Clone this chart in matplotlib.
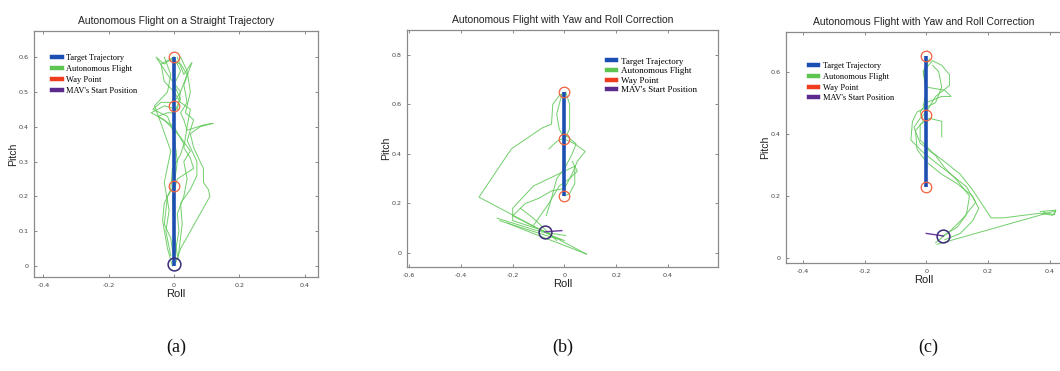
import matplotlib
matplotlib.use("Agg")
import matplotlib.pyplot as plt
from matplotlib.lines import Line2D

# ---------------- data ----------------
titles = ["Autonomous Flight on a Straight Trajectory",
          "Autonomous Flight with Yaw and Roll Correction",
          "Autonomous Flight with Yaw and Roll Correction"]
captions = ["(a)", "(b)", "(c)"]
legend_labels = ["Target Trajectory", "Autonomous Flight", "Way Point", "MAV's Start Position"]

# target trajectory (roll, pitch)
target_a = [(0.0, 0.0), (0.0, 0.6)]
target_b = [(0.0, 0.23), (0.0, 0.65)]
target_c = [(0.0, 0.23), (0.0, 0.65)]

# way points
waypoints_a = [(0.0, 0.6), (0.0, 0.46), (0.0, 0.23)]
waypoints_b = [(0.0, 0.65), (0.0, 0.46), (0.0, 0.23)]
waypoints_c = [(0.0, 0.65), (0.0, 0.46), (0.0, 0.23)]

# start positions and heading sticks
start_a = (0.0, 0.005)
start_b = (-0.075, 0.085)
start_c = (0.055, 0.072)
heading_b = [(-0.075, 0.085), (-0.01, 0.09)]
heading_c = [(0.0, 0.08), (0.055, 0.072)]

# autonomous flight traces (roll, pitch)
flight_a = [
    [(0.0, 0.01), (-0.01, 0.08), (-0.03, 0.12), (-0.02, 0.2), (0.0, 0.23), (0.01, 0.3), (0.0, 0.38),
     (-0.02, 0.43), (-0.065, 0.45), (-0.04, 0.47), (0.0, 0.47), (0.02, 0.5), (-0.02, 0.55),
     (-0.055, 0.6), (-0.03, 0.58), (0.0, 0.6)],
    [(0.005, 0.01), (0.02, 0.05), (0.11, 0.2), (0.105, 0.22), (0.09, 0.24), (0.09, 0.28), (0.08, 0.30),
     (0.06, 0.34), (0.05, 0.38), (0.08, 0.40), (0.12, 0.41), (0.09, 0.405), (0.04, 0.39), (0.03, 0.42),
     (0.02, 0.44), (0.04, 0.47), (0.03, 0.52), (0.055, 0.585), (0.03, 0.55), (0.01, 0.6)],
    [(0.0, 0.02), (0.015, 0.1), (0.01, 0.15), (0.03, 0.2), (0.04, 0.25), (0.03, 0.3), (0.05, 0.33),
     (0.02, 0.37), (-0.03, 0.42), (-0.07, 0.44), (-0.03, 0.46), (0.01, 0.45), (0.02, 0.5),
     (0.04, 0.55), (0.02, 0.58), (-0.01, 0.59)],
    [(-0.005, 0.0), (-0.02, 0.05), (-0.035, 0.13), (-0.03, 0.18), (-0.01, 0.22), (-0.005, 0.28),
     (0.02, 0.32), (0.03, 0.35), (0.0, 0.4), (-0.05, 0.43), (-0.02, 0.44), (0.0, 0.44), (0.02, 0.48),
     (0.0, 0.52), (0.02, 0.56), (0.0, 0.6)],
    [(0.01, 0.03), (0.0, 0.1), (-0.005, 0.2), (0.01, 0.25), (0.06, 0.28), (0.05, 0.31), (0.03, 0.34),
     (0.04, 0.4), (0.05, 0.45), (0.02, 0.47), (0.0, 0.5), (-0.03, 0.53), (-0.04, 0.58), (0.0, 0.6)],
    [(0.012, 0.02), (0.025, 0.12), (0.02, 0.18), (0.05, 0.22), (0.07, 0.26), (0.07, 0.3),
     (0.04, 0.36), (0.06, 0.42), (0.035, 0.44), (0.05, 0.5), (0.04, 0.56), (0.02, 0.6)],
    [(-0.01, 0.03), (-0.025, 0.1), (-0.015, 0.16), (-0.03, 0.24), (-0.01, 0.33), (-0.04, 0.41),
     (-0.06, 0.46), (-0.02, 0.5), (-0.01, 0.55), (-0.03, 0.6)],
]

flight_b = [
    [(0.085, -0.005), (-0.33, 0.225), (-0.205, 0.42), (-0.085, 0.505), (-0.05, 0.52), (-0.045, 0.6),
     (-0.02, 0.635), (0.005, 0.65), (0.02, 0.6), (0.02, 0.5), (0.0, 0.46)],
    [(-0.08, 0.09), (-0.2, 0.13), (-0.2, 0.18), (-0.12, 0.27), (-0.06, 0.30), (0.0, 0.33),
     (0.04, 0.35), (0.04, 0.28), (0.02, 0.24), (0.0, 0.23)],
    [(-0.25, 0.13), (-0.1, 0.08), (-0.04, 0.06), (0.0, 0.05), (-0.05, 0.07), (-0.2, 0.15),
     (-0.15, 0.2), (-0.1, 0.22), (-0.05, 0.25), (0.0, 0.26), (0.03, 0.32), (0.05, 0.37),
     (0.08, 0.41), (0.04, 0.44), (0.0, 0.46), (-0.02, 0.5), (-0.03, 0.56), (-0.01, 0.64)],
    [(-0.22, 0.12), (-0.1, 0.07), (0.0, 0.03), (0.085, -0.005)],
    [(-0.26, 0.14), (-0.09, 0.085), (0.005, 0.07)],
    [(-0.17, 0.18), (-0.12, 0.14), (-0.08, 0.1), (-0.03, 0.05)],
    [(-0.07, 0.15), (-0.05, 0.22), (-0.03, 0.3), (0.0, 0.34), (0.03, 0.4), (0.045, 0.44),
     (0.01, 0.47), (-0.03, 0.45), (-0.06, 0.42)],
    [(-0.12, 0.11), (-0.06, 0.2), (-0.02, 0.27), (0.02, 0.3), (0.05, 0.33), (0.03, 0.37)],
]

flight_c = [
    [(0.05, 0.07), (0.1, 0.1), (0.13, 0.14), (0.14, 0.2), (0.1, 0.25), (0.06, 0.29), (0.03, 0.33),
     (-0.02, 0.37), (-0.04, 0.42), (-0.02, 0.45), (0.0, 0.47), (0.03, 0.52), (0.075, 0.555),
     (0.075, 0.59), (0.05, 0.62), (0.02, 0.635), (-0.01, 0.6), (0.0, 0.53), (-0.01, 0.49)],
    [(0.03, 0.05), (0.08, 0.09), (0.12, 0.13), (0.16, 0.18), (0.13, 0.23), (0.08, 0.27),
     (0.04, 0.3), (-0.01, 0.34), (-0.05, 0.38), (-0.045, 0.44), (-0.03, 0.47), (0.03, 0.5),
     (0.05, 0.55), (0.04, 0.6), (0.02, 0.62)],
    [(0.035, 0.045), (0.42, 0.153), (0.41, 0.138), (0.37, 0.145), (0.25, 0.13), (0.21, 0.13),
     (0.19, 0.16), (0.15, 0.22), (0.11, 0.27), (0.06, 0.31), (0.02, 0.34), (-0.02, 0.38),
     (-0.02, 0.43), (0.01, 0.45), (0.05, 0.44), (0.05, 0.39)],
    [(0.06, 0.06), (0.11, 0.08), (0.15, 0.12), (0.17, 0.16), (0.15, 0.2), (0.1, 0.24),
     (0.05, 0.27), (0.0, 0.31), (-0.03, 0.35), (-0.035, 0.41), (-0.01, 0.44), (-0.02, 0.47),
     (0.0, 0.5), (0.05, 0.52), (0.08, 0.52), (0.06, 0.54), (0.0, 0.55), (-0.01, 0.6), (0.01, 0.64)],
    [(0.37, 0.15), (0.42, 0.155), (0.415, 0.14), (0.38, 0.148)],
]

panels = [
    dict(target=target_a, wps=waypoints_a, start=start_a, heading=None, flights=flight_a,
         xlim=(-0.429, 0.441), ylim=(-0.0316, 0.675),
         xticks=[-0.4, -0.2, 0, 0.2, 0.4], yticks=[0, 0.1, 0.2, 0.3, 0.4, 0.5, 0.6],
         pos=(34, 31, 318, 277), legend=(0.053, 0.92), legsize=6, legspace=0.36,
         ylabelpad=0, right=True),
    dict(target=target_b, wps=waypoints_b, start=start_b, heading=heading_b, flights=flight_b,
         xlim=(-0.608, 0.593), ylim=(-0.057, 0.9),
         xticks=[-0.6, -0.4, -0.2, 0, 0.2, 0.4], yticks=[0, 0.2, 0.4, 0.6, 0.8],
         pos=(407, 30, 718, 267), legend=(0.63, 0.90), legsize=6.5, legspace=0.14,
         ylabelpad=0, right=True),
    dict(target=target_c, wps=waypoints_c, start=start_c, heading=heading_c, flights=flight_c,
         xlim=(-0.455, 0.44), ylim=(-0.015, 0.727),
         xticks=[-0.4, -0.2, 0, 0.2, 0.4], yticks=[0, 0.2, 0.4, 0.6],
         pos=(786, 32, 1062, 263), legend=(0.072, 0.885), legsize=6, legspace=0.34,
         ylabelpad=0, right=False),
]

W, H = 1060, 371
fig = plt.figure(figsize=(W / 100, H / 100), dpi=100)

BLUE = "#1d4fb3"
GREEN = "#62c95a"
RED = "#f0603e"
PURPLE = "#3b2a78"
LEG_COLORS = ["#1d4fb3", "#5ec452", "#f03c1e", "#5b2a8c"]
SPINE = "#8a8a8a"

for i, p in enumerate(panels):
    l, t, r, b = p["pos"]
    ax = fig.add_axes([l / W, 1 - b / H, (r - l) / W, (b - t) / H])
    ax.set_xlim(*p["xlim"])
    ax.set_ylim(*p["ylim"])
    for tr in p["flights"]:
        xs, ys = zip(*tr)
        ax.plot(xs, ys, color=GREEN, lw=0.7, alpha=0.9, zorder=2)
    xs, ys = zip(*p["target"])
    ax.plot(xs, ys, color=BLUE, lw=2.6, zorder=3, solid_capstyle="butt")
    for (x, y) in p["wps"]:
        ax.plot([x], [y], "o", ms=7.6, mfc="none", mec=RED, mew=0.9, zorder=4)
    if p["heading"] is not None:
        xs, ys = zip(*p["heading"])
        ax.plot(xs, ys, color="#6a3aa0", lw=1.0, zorder=4)
    ax.plot([p["start"][0]], [p["start"][1]], "o", ms=9.2, mfc="none",
            mec=PURPLE, mew=1.1, zorder=5)

    ax.set_xticks(p["xticks"])
    ax.set_yticks(p["yticks"])
    ax.set_xticklabels([("%g" % v) for v in p["xticks"]])
    ax.set_yticklabels([("%g" % v) for v in p["yticks"]])
    ax.tick_params(direction="in", length=2.5, width=0.6, colors="#777777", labelsize=4.6,
                   labelcolor="#444444", top=True, right=p["right"], pad=4)
    for s in ax.spines.values():
        s.set_color(SPINE)
        s.set_linewidth(0.9)
    ax.set_title(titles[i], fontsize=7.5, family="Liberation Sans", color="#222222", pad=5)
    ax.set_xlabel("Roll", fontsize=8, family="Liberation Sans", color="#222222", labelpad=1)
    ax.set_ylabel("Pitch", fontsize=7.6, family="Liberation Sans", color="#222222",
                  labelpad=p["ylabelpad"])

    handles = [Line2D([0], [0], color=c, lw=3.2) for c in LEG_COLORS]
    ax.legend(handles, legend_labels, loc="upper left", bbox_to_anchor=p["legend"],
              frameon=False, prop={"family": "Liberation Serif", "size": p["legsize"]},
              handlelength=1.1, handletextpad=0.5, labelspacing=p["legspace"], borderaxespad=0)

    cx = (l + r) / 2 / W if i < 2 else 928 / W
    fig.text(cx, 1 - 347 / H, captions[i], ha="center", va="center",
             fontsize=13, family="Liberation Serif", color="#111111")

fig.savefig("out.png", dpi=100)
